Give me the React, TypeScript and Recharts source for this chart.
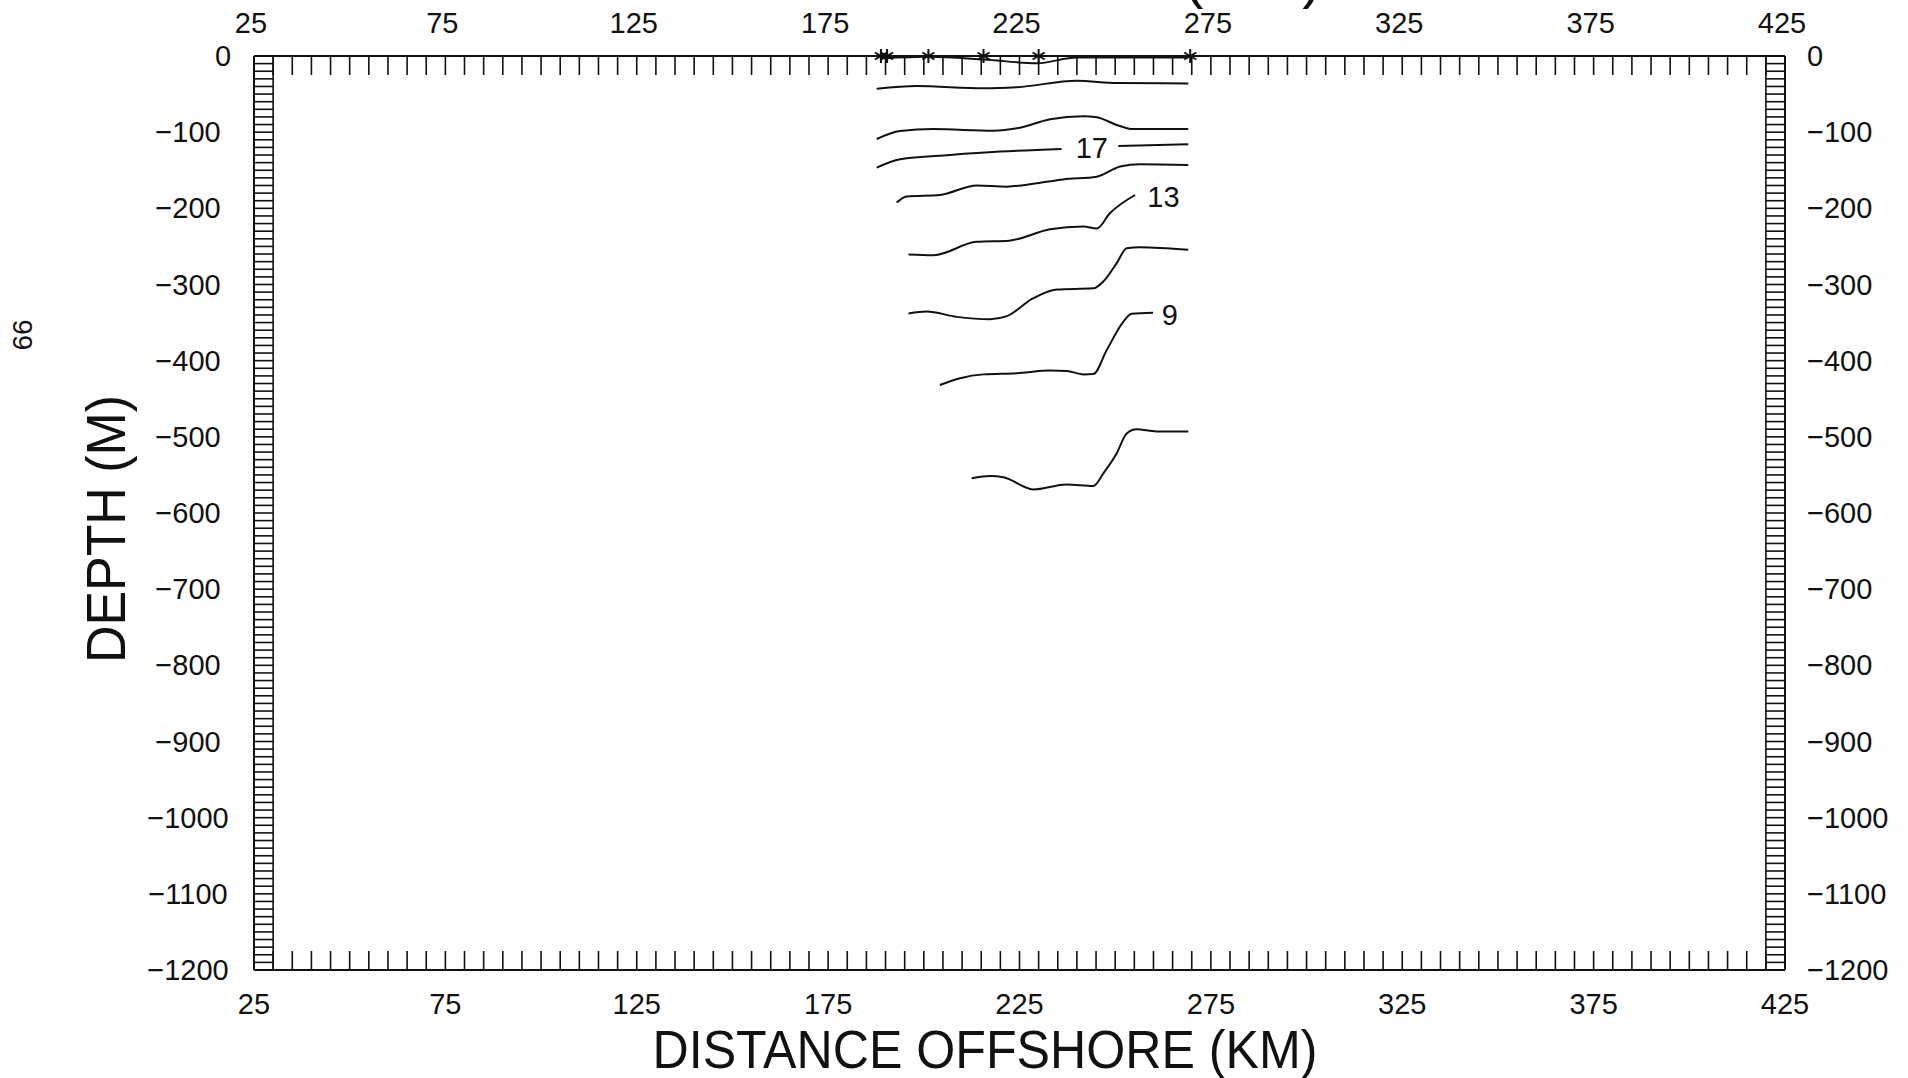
import React from 'react';
import {
  LineChart,
  Line,
  Scatter,
  XAxis,
  YAxis,
  ReferenceLine,
  Customized,
} from 'recharts';

// contour lines, x = distance offshore (km), y = depth (m); null = gap for a label
const surfaceLine = [
  { x: 189.0, y: -3 }, { x: 201.2, y: -1 }, { x: 215.6, y: -4.5 }, { x: 229.5, y: -9.5 },
  { x: 240.0, y: -2 }, { x: 269.1, y: -2 },
];
const line2 = [
  { x: 187.7, y: -43 }, { x: 198.1, y: -39.5 }, { x: 215.6, y: -42.5 }, { x: 224.3, y: -41 },
  { x: 240.0, y: -32.5 }, { x: 250.5, y: -35.5 }, { x: 269.1, y: -36 },
];
const line3 = [
  { x: 187.7, y: -109 }, { x: 193.8, y: -98.5 }, { x: 202.5, y: -96 }, { x: 218.2, y: -98 },
  { x: 224.3, y: -95 }, { x: 233.0, y: -83 }, { x: 241.7, y: -79 }, { x: 245.2, y: -80.5 },
  { x: 250.4, y: -90.5 }, { x: 254.7, y: -96 }, { x: 269.1, y: -96 },
];
const line17 = [
  { x: 187.7, y: -146.5 }, { x: 193.8, y: -135.5 }, { x: 206.8, y: -130 }, { x: 219.9, y: -125.5 },
  { x: 236.0, y: -122 }, { x: 243.9, y: null }, { x: 250.8, y: -118 }, { x: 269.1, y: -116 },
];
const line5 = [
  { x: 192.9, y: -192.5 }, { x: 195.5, y: -184.5 }, { x: 204.2, y: -182.5 }, { x: 213.8, y: -170 },
  { x: 221.7, y: -171.5 }, { x: 229.5, y: -167 }, { x: 236.4, y: -162 }, { x: 245.2, y: -158.5 },
  { x: 251.3, y: -145 }, { x: 256.5, y: -142 }, { x: 269.1, y: -143 },
];
const line13 = [
  { x: 196.0, y: -260.5 }, { x: 202.5, y: -261.5 }, { x: 213.8, y: -244 }, { x: 222.3, y: -242.5 },
  { x: 233.0, y: -227.5 }, { x: 241.7, y: -224 }, { x: 245.2, y: -226.5 }, { x: 248.6, y: -206.5 },
  { x: 255.2, y: -182.5 },
];
const line7 = [
  { x: 196.0, y: -338 }, { x: 200.7, y: -335.5 }, { x: 208.6, y: -342.5 }, { x: 217.3, y: -345.5 },
  { x: 221.7, y: -341.5 }, { x: 228.6, y: -318 }, { x: 234.7, y: -306.5 }, { x: 244.3, y: -305 },
  { x: 246.9, y: -296 }, { x: 250.4, y: -272 }, { x: 253.0, y: -252.5 }, { x: 256.5, y: -251 },
  { x: 269.1, y: -254.5 },
];
const line9 = [
  { x: 204.2, y: -432 }, { x: 209.5, y: -423 }, { x: 215.6, y: -418 }, { x: 224.3, y: -416.5 },
  { x: 233.0, y: -413 }, { x: 237.3, y: -413.5 }, { x: 241.7, y: -418 }, { x: 244.3, y: -417.5 },
  { x: 247.8, y: -386 }, { x: 252.1, y: -349 }, { x: 254.3, y: -338.5 }, { x: 259.9, y: -337 },
];
const line11 = [
  { x: 212.5, y: -554.5 }, { x: 217.3, y: -551.5 }, { x: 220.8, y: -553 }, { x: 228.6, y: -569 },
  { x: 237.3, y: -562.5 }, { x: 244.3, y: -564.5 }, { x: 246.9, y: -548 }, { x: 250.4, y: -521.5 },
  { x: 253.0, y: -495.5 }, { x: 255.6, y: -490 }, { x: 260.8, y: -493 }, { x: 269.1, y: -493 },
];
const contours = [surfaceLine, line2, line3, line17, line5, line13, line7, line9, line11];

// stations along the surface
const stations = [
  { x: 188.8, y: 0 }, { x: 190.4, y: 0 }, { x: 201.2, y: 0 }, { x: 215.6, y: 0 },
  { x: 230.0, y: 0 }, { x: 269.6, y: 0 },
];

// contour labels
const contourLabels = [
  { x: 243.9, y: -121, label: '17' },
  { x: 262.6, y: -184.5, label: '13' },
  { x: 264.3, y: -340, label: '9' },
];

const xLabels = [25, 75, 125, 175, 225, 275, 325, 375, 425];
const depthLabels = [0, -100, -200, -300, -400, -500, -600, -700, -800, -900, -1000, -1100, -1200];

const xTicks: number[] = [];
for (let v = 25; v <= 425; v += 5) xTicks.push(v);
const depthTicks: number[] = [];
for (let v = 0; v >= -1200; v -= 10) depthTicks.push(v);

const FONT = '"Liberation Sans", Arial, sans-serif';
const INK = '#111';
const TICK = 19;

const fmt = (v: number) => (v < 0 ? `\u2212${Math.abs(v)}` : `${v}`);

const TopTick = (props: any) => {
  const { x, y, payload } = props;
  const v = payload.value;
  return (
    <g>
      <line x1={x} y1={y} x2={x} y2={y + TICK} stroke={INK} strokeWidth={1.6} />
      {xLabels.includes(v) && (
        <text x={x - 3} y={y - 23} textAnchor="middle" fontSize={29} fontFamily={FONT} fill={INK}>
          {v}
        </text>
      )}
    </g>
  );
};

const BottomTick = (props: any) => {
  const { x, y, payload } = props;
  const v = payload.value;
  return (
    <g>
      <line x1={x} y1={y} x2={x} y2={y - TICK} stroke={INK} strokeWidth={1.6} />
      {xLabels.includes(v) && (
        <text x={x} y={y + 44} textAnchor="middle" fontSize={29} fontFamily={FONT} fill={INK}>
          {v}
        </text>
      )}
    </g>
  );
};

const LeftTick = (props: any) => {
  const { x, y, payload } = props;
  const v = payload.value;
  return (
    <g>
      <line x1={x} y1={y} x2={x + TICK} y2={y} stroke={INK} strokeWidth={1.6} />
      {depthLabels.includes(v) && (
        <text
          x={v === 0 ? x - 31 : x - 66}
          y={y + 10}
          textAnchor="middle"
          fontSize={29}
          fontFamily={FONT}
          fill={INK}
        >
          {fmt(v)}
        </text>
      )}
    </g>
  );
};

const RightTick = (props: any) => {
  const { x, y, payload } = props;
  const v = payload.value;
  return (
    <g>
      <line x1={x} y1={y} x2={x - TICK} y2={y} stroke={INK} strokeWidth={1.6} />
      {depthLabels.includes(v) && (
        <text x={x + 22} y={y + 10} textAnchor="start" fontSize={29} fontFamily={FONT} fill={INK}>
          {fmt(v)}
        </text>
      )}
    </g>
  );
};

const Star = (props: any) => {
  const { cx, cy } = props;
  const r = 7;
  const arms = [90, 30, 150];
  return (
    <g stroke={INK} strokeWidth={2}>
      {arms.map((a) => {
        const dx = r * Math.cos((a * Math.PI) / 180);
        const dy = r * Math.sin((a * Math.PI) / 180);
        return <line key={a} x1={cx - dx} y1={cy - dy} x2={cx + dx} y2={cy + dy} />;
      })}
    </g>
  );
};

const ContourLabel = (props: any) => {
  const { cx, cy, payload } = props;
  return (
    <text x={cx} y={cy + 10} textAnchor="middle" fontSize={29} fontFamily={FONT} fill={INK}>
      {payload.label}
    </text>
  );
};

const Titles = () => (
  <g fontFamily={FONT} fill={INK}>
    <text x={0} y={0} transform="translate(32 335) rotate(-90)" textAnchor="middle" fontSize={28}>
      66
    </text>
    <text
      x={985}
      y={1068}
      textAnchor="middle"
      fontSize={54}
      textLength={665}
      lengthAdjust="spacingAndGlyphs"
    >
      DISTANCE OFFSHORE (KM)
    </text>
    <text
      x={0}
      y={0}
      transform="translate(125 529) rotate(-90)"
      textAnchor="middle"
      fontSize={56}
      textLength={268}
      lengthAdjust="spacingAndGlyphs"
    >
      DEPTH (M)
    </text>
    <text x={1322} y={-3} textAnchor="end" fontSize={59}>
      TEMPERATURE ( °C )
    </text>
  </g>
);

export default function App() {
  return (
    <div style={{ position: 'absolute', left: 0, top: 0, width: 1908, height: 1078, background: '#fff' }}>
      <LineChart width={1908} height={1078} margin={{ top: 55, right: 122, bottom: 107, left: 253 }}>
        <XAxis
          xAxisId="bottom"
          type="number"
          dataKey="x"
          domain={[25, 425]}
          ticks={xTicks}
          interval={0}
          height={1}
          tickSize={0}
          tickMargin={0}
          tick={<BottomTick />}
          axisLine={{ stroke: INK, strokeWidth: 2 }}
        />
        <XAxis
          xAxisId="top"
          orientation="top"
          type="number"
          dataKey="x"
          domain={[25, 425]}
          ticks={xTicks}
          interval={0}
          height={1}
          tickSize={0}
          tickMargin={0}
          tick={<TopTick />}
          axisLine={{ stroke: INK, strokeWidth: 2 }}
          allowDataOverflow
        />
        <YAxis
          yAxisId="left"
          type="number"
          dataKey="y"
          domain={[-1200, 0]}
          ticks={depthTicks}
          interval={0}
          width={1}
          tickSize={0}
          tickMargin={0}
          tick={<LeftTick />}
          axisLine={{ stroke: INK, strokeWidth: 2 }}
        />
        <YAxis
          yAxisId="right"
          orientation="right"
          type="number"
          dataKey="y"
          domain={[-1200, 0]}
          ticks={depthTicks}
          interval={0}
          width={1}
          tickSize={0}
          tickMargin={0}
          tick={<RightTick />}
          axisLine={{ stroke: INK, strokeWidth: 2 }}
          allowDataOverflow
        />
        <ReferenceLine xAxisId="bottom" yAxisId="left" x={30} stroke={INK} strokeWidth={1.6} />
        <ReferenceLine xAxisId="bottom" yAxisId="left" x={420} stroke={INK} strokeWidth={1.6} />
        {contours.map((c, i) => (
          <Line
            key={i}
            xAxisId="bottom"
            yAxisId="left"
            data={c}
            dataKey="y"
            type="monotone"
            stroke={INK}
            strokeWidth={2}
            dot={false}
            activeDot={false}
            connectNulls={false}
            isAnimationActive={false}
          />
        ))}
        <Scatter
          xAxisId="bottom"
          yAxisId="left"
          data={stations}
          dataKey="y"
          shape={<Star />}
          isAnimationActive={false}
        />
        <Scatter
          xAxisId="bottom"
          yAxisId="left"
          data={contourLabels}
          dataKey="y"
          shape={<ContourLabel />}
          isAnimationActive={false}
        />
        <Customized component={<Titles />} />
      </LineChart>
    </div>
  );
}
